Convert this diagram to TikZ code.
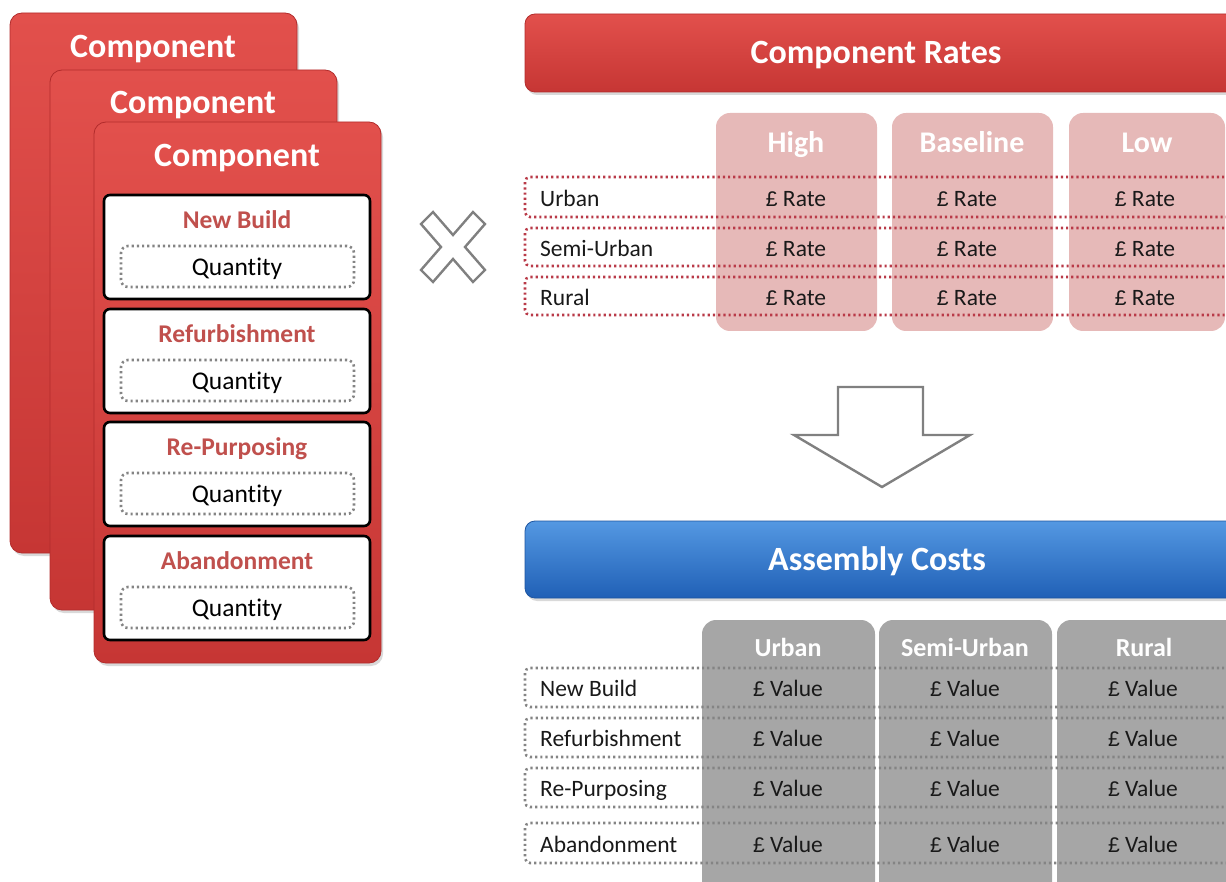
\documentclass[tikz,border=0pt]{standalone}
\usepackage{fontspec}
\setmainfont{Carlito}[Numbers=Lining, Ligatures=NoCommon]
\newfontfamily\poundfont{Liberation Sans}[Scale=0.9]
\newcommand\gbpsign{{\poundfont £}}
\usetikzlibrary{shadows,fit}

\definecolor{cardtop}{RGB}{226,80,76}
\definecolor{cardbot}{RGB}{198,54,52}
\definecolor{cardedge}{RGB}{178,44,44}
\definecolor{labelred}{RGB}{192,80,77}
\definecolor{pinkcol}{RGB}{230,185,184}
\definecolor{reddot}{RGB}{185,58,72}
\definecolor{graycol}{RGB}{166,166,166}
\definecolor{graydot}{RGB}{132,132,132}
\definecolor{bluetop}{RGB}{84,152,226}
\definecolor{bluebot}{RGB}{32,96,182}
\definecolor{blueedge}{RGB}{30,85,160}
\definecolor{outline}{RGB}{128,128,128}

\tikzset{
  x=1pt, y=-1pt,
  softshadow/.style={drop shadow={shadow xshift=2pt, shadow yshift=-3pt, opacity=0.3}},
  card/.style={rounded corners=12pt, top color=cardtop, bottom color=cardbot,
    draw=cardedge, line width=0.8pt, inner sep=0pt, softshadow},
  redbar/.style={rounded corners=10pt, top color=cardtop, bottom color=cardbot,
    draw=cardedge, line width=0.8pt, inner sep=0pt, softshadow},
  bluebar/.style={rounded corners=10pt, top color=bluetop, bottom color=bluebot,
    draw=blueedge, line width=0.8pt, inner sep=0pt, softshadow},
  itembox/.style={rounded corners=6pt, fill=white, draw=black, line width=2.6pt, inner sep=0pt},
  qtybox/.style={rounded corners=7pt, draw=graydot, line width=2.6pt,
    dash pattern=on 2.2pt off 3pt, inner sep=0pt},
  pinkcolumn/.style={rounded corners=14pt, fill=pinkcol, inner sep=0pt},
  graycolumn/.style={rounded corners=14pt, fill=graycol, inner sep=0pt},
  redrow/.style={rounded corners=5pt, draw=reddot, line width=2.6pt,
    dash pattern=on 2.2pt off 3pt, inner sep=0pt},
  grayrow/.style={rounded corners=5pt, draw=graydot, line width=2.6pt,
    dash pattern=on 2.2pt off 3pt, inner sep=0pt},
  txt/.style={inner sep=0pt, text depth=0pt},
  cardtitle/.style={txt, text=white, font=\bfseries\fontsize{34}{36}\selectfont, text height=21.9pt},
  bartitle/.style={txt, text=white, font=\bfseries\fontsize{34}{36}\selectfont, text height=21.9pt},
  itemtitle/.style={txt, text=labelred, font=\bfseries\fontsize{25.5}{28}\selectfont, text height=16.4pt},
  qtytext/.style={txt, text=black, font=\fontsize{25.5}{28}\selectfont, text height=16.4pt},
  pinkhead/.style={txt, text=white, font=\bfseries\fontsize{30}{32}\selectfont, text height=19.3pt},
  grayhead/.style={txt, text=white, font=\bfseries\fontsize{26}{28}\selectfont, text height=16.7pt},
  rowlabel/.style={txt, anchor=west, yshift=-1.5pt, text=black!90,
    font=\fontsize{23.5}{26}\selectfont, text height=15.1pt},
  cell/.style={txt, yshift=-1.5pt, text=black!90, font=\fontsize{23.5}{26}\selectfont, text height=15.1pt},
  symbol/.style={draw=outline, line width=2.4pt, fill=white, line join=miter},
}

\begin{document}
\begin{tikzpicture}
\useasboundingbox (0,0) rectangle (1226,882);
\clip (0,0) rectangle (1226,882);

% ---------- stacked component cards ----------
\node[card, fit={(10,13) (297,553)}] (card1) {};
\node[cardtitle] (card1t) at (153,47) {Component};
\node[card, fit={(50,70) (337,610)}] (card2) {};
\node[cardtitle] (card2t) at (193,103) {Component};
\node[card, fit={(94,122) (381,663)}] (card3) {};
\node[cardtitle] (card3t) at (237,156) {Component};

\foreach \name/\top/\lab in {nb/195/New Build, rf/309/Refurbishment,
                             rp/422/Re-Purposing, ab/536/Abandonment} {
  \node[itembox, fit={(104,\top) (370,\top+104)}] (\name) {};
  \node[itemtitle] (\name t) at (237,\top+25) {\lab};
  \node[qtybox, fit={(121,\top+51) (354,\top+92)}] (\name q) {};
  \node[qtytext] (\name qt) at (237,\top+72) {Quantity};
}

% ---------- multiplication sign ----------
\draw[symbol] (421,224) -- (433,212) -- (453,235) -- (473,212) -- (485,224)
  -- (465,247) -- (485,270) -- (473,282) -- (453,259) -- (433,282)
  -- (421,270) -- (441,247) -- cycle;

% ---------- component rates ----------
\node[redbar, fit={(525,14) (1250,92)}] (rates) {};
\node[bartitle] (ratest) at (876,53) {Component Rates};

\node[pinkcolumn, fit={(716,113) (877,331)}] (high) {};
\node[pinkcolumn, fit={(892,113) (1053,331)}] (base) {};
\node[pinkcolumn, fit={(1069,113) (1225,331)}] (low) {};
\node[pinkhead] (hight) at (796,143) {High};
\node[pinkhead] (baset) at (972,143) {Baseline};
\node[pinkhead] (lowt) at (1147,143) {Low};

\foreach \name/\ya/\yb/\lab in {ru/177/217/Urban, rs/228/266/Semi-Urban, rr/277/315/Rural} {
  \node[redrow, fit={(525,\ya) (1250,\yb)}] (\name) {};
  \node[rowlabel] (\name l) at (540,{(\ya+\yb)/2}) {\lab};
  \foreach \cx/\cn in {796/a, 967/b, 1145/c}
    \node[cell] (\name\cn) at (\cx,{(\ya+\yb)/2}) {\gbpsign\ Rate};
}

% ---------- down arrow ----------
\draw[symbol] (838,387) -- (923,387) -- (923,435) -- (970,435) -- (882,487)
  -- (794,435) -- (838,435) -- cycle;

% ---------- assembly costs ----------
\node[bluebar, fit={(525,521) (1250,598)}] (costs) {};
\node[bartitle] (costst) at (877,560) {Assembly Costs};

\node[graycolumn, fit={(702,620) (875,900)}] (urb) {};
\node[graycolumn, fit={(879,620) (1052,900)}] (semi) {};
\node[graycolumn, fit={(1057,620) (1240,900)}] (rur) {};
\node[grayhead] (urbt) at (788,648) {Urban};
\node[grayhead] (semit) at (965,648) {Semi-Urban};
\node[grayhead] (rurt) at (1144,648) {Rural};

\foreach \name/\ya/\yb/\lab in {anb/668/707/New Build, arf/718/757/Refurbishment,
                                arp/768/807/Re-Purposing, aab/823/863/Abandonment} {
  \node[grayrow, fit={(525,\ya) (1250,\yb)}] (\name) {};
  \node[rowlabel] (\name l) at (540,{(\ya+\yb)/2}) {\lab};
  \foreach \cx/\cn in {788/a, 965/b, 1143/c}
    \node[cell] (\name\cn) at (\cx,{(\ya+\yb)/2}) {\gbpsign\ Value};
}
\end{tikzpicture}
\end{document}
